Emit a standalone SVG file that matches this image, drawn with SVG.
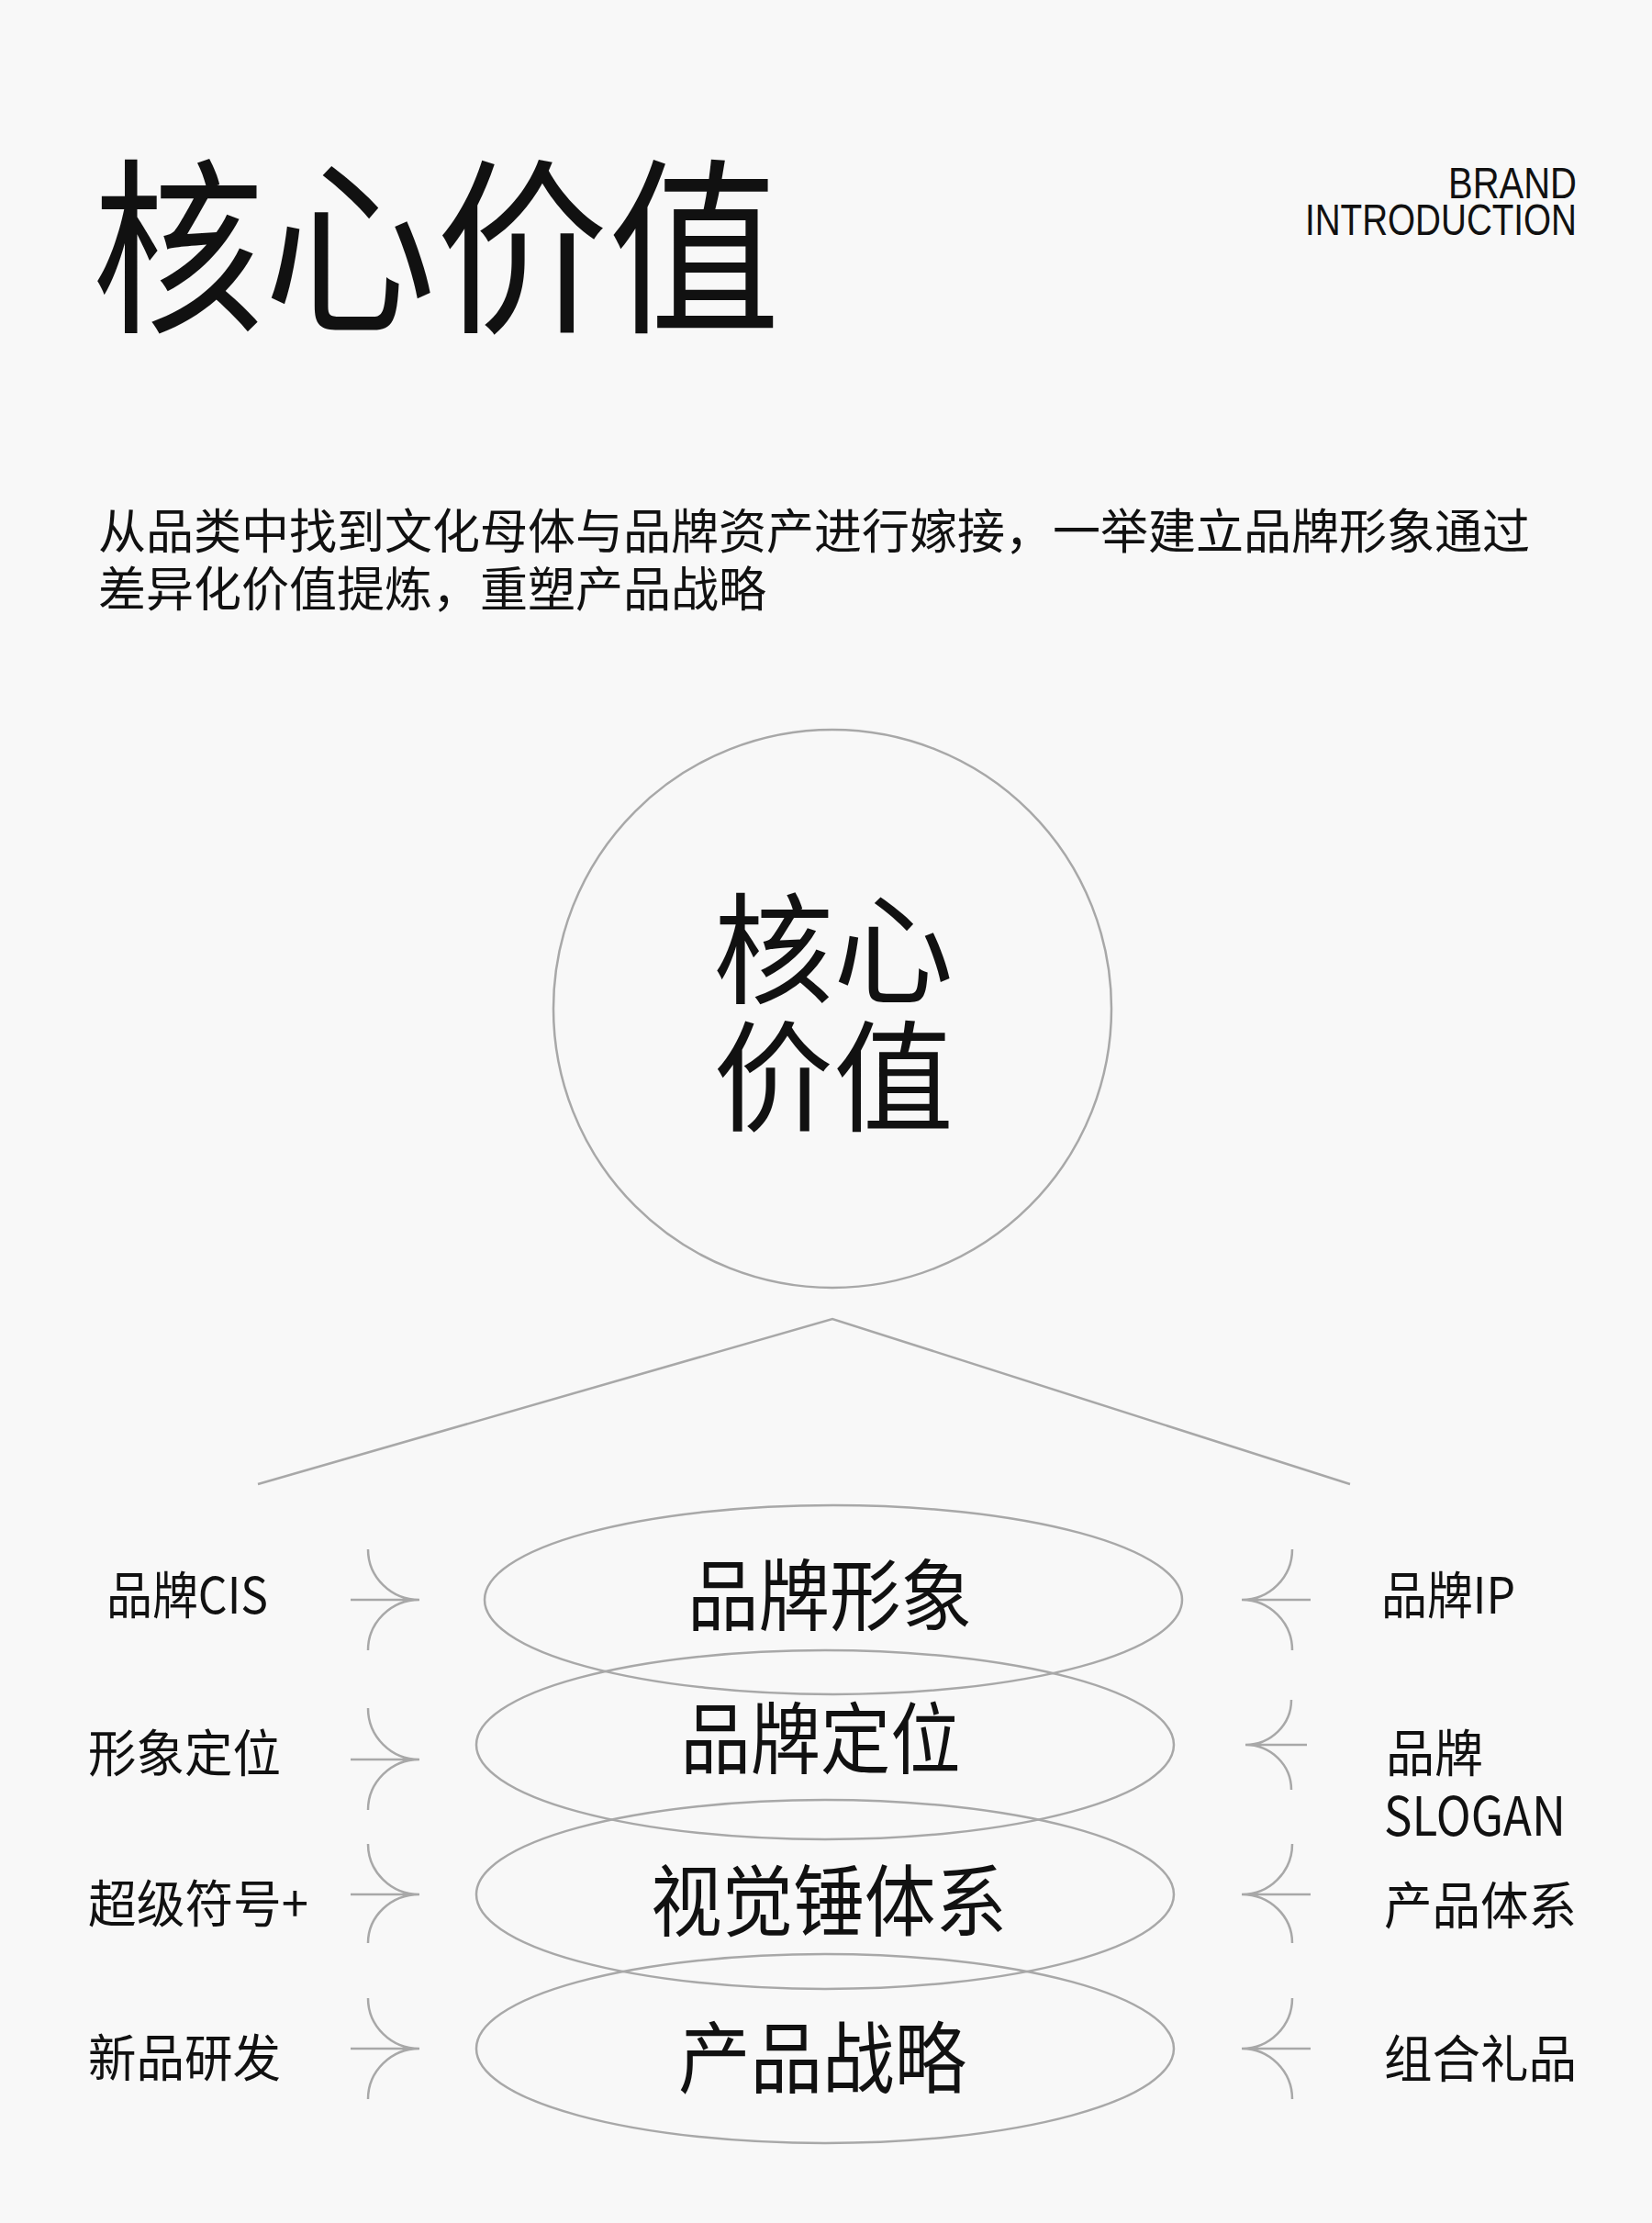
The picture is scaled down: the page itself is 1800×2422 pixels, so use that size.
<svg xmlns="http://www.w3.org/2000/svg" width="1800" height="2422" viewBox="0 0 1800 2422">
<style>
.cjk{font-family:"Noto Sans CJK SC","Noto Sans",sans-serif;fill:#111;}
.lat{font-family:"Liberation Sans",Arial,sans-serif;fill:#111;}
.ln{fill:none;stroke:#a8a8a8;stroke-width:2.5;}
</style>
<rect width="1800" height="2422" fill="#f8f8f8"/>
<g id="title">
<text class="cjk" x="100" y="346" font-size="205" textLength="750" lengthAdjust="spacingAndGlyphs">核心价值</text>
</g>
<g id="brand-intro">
<text class="lat" x="1718" y="216" font-size="48" text-anchor="end" textLength="140" lengthAdjust="spacingAndGlyphs">BRAND</text>
<text class="lat" x="1718" y="256" font-size="48" text-anchor="end" textLength="296" lengthAdjust="spacingAndGlyphs">INTRODUCTION</text>
</g>
<g id="intro-text">
<text class="cjk" x="107" y="598" font-size="52">从品类中找到文化母体与品牌资产进行嫁接，一举建立品牌形象通过</text>
<text class="cjk" x="107" y="661" font-size="52">差异化价值提炼，重塑产品战略</text>
</g>
<g id="core">
<circle class="ln" cx="907" cy="1099" r="304"/>
<text class="cjk" x="908" y="1083" font-size="131" text-anchor="middle">核心</text>
<text class="cjk" x="908" y="1222" font-size="131" text-anchor="middle">价值</text>
</g>
<g id="connectors">
<polyline class="ln" points="281,1617 907,1437 1471,1617"/>
<path class="ln" d="M382,1743 H457 M401,1688 A56,55 0 0 0 457,1743 A56,55 0 0 0 401,1798"/>
<path class="ln" d="M382,1917 H457 M401,1861 A56,56 0 0 0 457,1917 A56,55 0 0 0 401,1972"/>
<path class="ln" d="M382,2064 H457 M401,2009 A56,55 0 0 0 457,2064 A56,53 0 0 0 401,2117"/>
<path class="ln" d="M382,2232 H457 M401,2177 A56,55 0 0 0 457,2232 A56,55 0 0 0 401,2287"/>
<path class="ln" d="M1428,1743 H1353 M1408,1688 A55,55 0 0 1 1353,1743 A55,55 0 0 1 1408,1798"/>
<path class="ln" d="M1424,1901 H1357 M1407,1852 A50,49 0 0 1 1357,1901 A50,49 0 0 1 1407,1950"/>
<path class="ln" d="M1428,2064 H1353 M1408,2009 A55,55 0 0 1 1353,2064 A55,53 0 0 1 1408,2117"/>
<path class="ln" d="M1428,2232 H1353 M1408,2177 A55,55 0 0 1 1353,2232 A55,55 0 0 1 1408,2287"/>
</g>
<g id="layer-brand-image">
<ellipse class="ln" cx="908" cy="1743" rx="380" ry="103"/>
<text class="cjk" x="904" y="1770" font-size="85" text-anchor="middle" textLength="310" lengthAdjust="spacingAndGlyphs">品牌形象</text>
</g>
<g id="layer-brand-position">
<ellipse class="ln" cx="899" cy="1901" rx="380" ry="103"/>
<text class="cjk" x="894" y="1926" font-size="85" text-anchor="middle" textLength="305" lengthAdjust="spacingAndGlyphs">品牌定位</text>
</g>
<g id="layer-visual">
<ellipse class="ln" cx="899" cy="2064" rx="380" ry="103"/>
<text class="cjk" x="903" y="2103" font-size="85" text-anchor="middle" textLength="388" lengthAdjust="spacingAndGlyphs">视觉锤体系</text>
</g>
<g id="layer-product">
<ellipse class="ln" cx="899" cy="2232" rx="380" ry="103"/>
<text class="cjk" x="896" y="2274" font-size="85" text-anchor="middle" textLength="314" lengthAdjust="spacingAndGlyphs">产品战略</text>
</g>
<g id="label-cis"><text class="cjk" x="116" y="1758" font-size="55" textLength="176" lengthAdjust="spacingAndGlyphs">品牌CIS</text></g>
<g id="label-position"><text class="cjk" x="96" y="1930" font-size="55" textLength="210" lengthAdjust="spacingAndGlyphs">形象定位</text></g>
<g id="label-symbol"><text class="cjk" x="96" y="2094" font-size="55" textLength="240" lengthAdjust="spacingAndGlyphs">超级符号+</text></g>
<g id="label-newproduct"><text class="cjk" x="96" y="2262" font-size="55" textLength="210" lengthAdjust="spacingAndGlyphs">新品研发</text></g>
<g id="label-ip"><text class="cjk" x="1505" y="1758" font-size="55" textLength="146" lengthAdjust="spacingAndGlyphs">品牌IP</text></g>
<g id="label-slogan">
<text class="cjk" x="1510" y="1930" font-size="55" textLength="106" lengthAdjust="spacingAndGlyphs">品牌</text>
<text class="cjk" x="1508" y="2000" font-size="58" textLength="198" lengthAdjust="spacingAndGlyphs">SLOGAN</text>
</g>
<g id="label-system"><text class="cjk" x="1508" y="2096" font-size="55" textLength="210" lengthAdjust="spacingAndGlyphs">产品体系</text></g>
<g id="label-gift"><text class="cjk" x="1508" y="2263" font-size="55" textLength="210" lengthAdjust="spacingAndGlyphs">组合礼品</text></g>
</svg>
